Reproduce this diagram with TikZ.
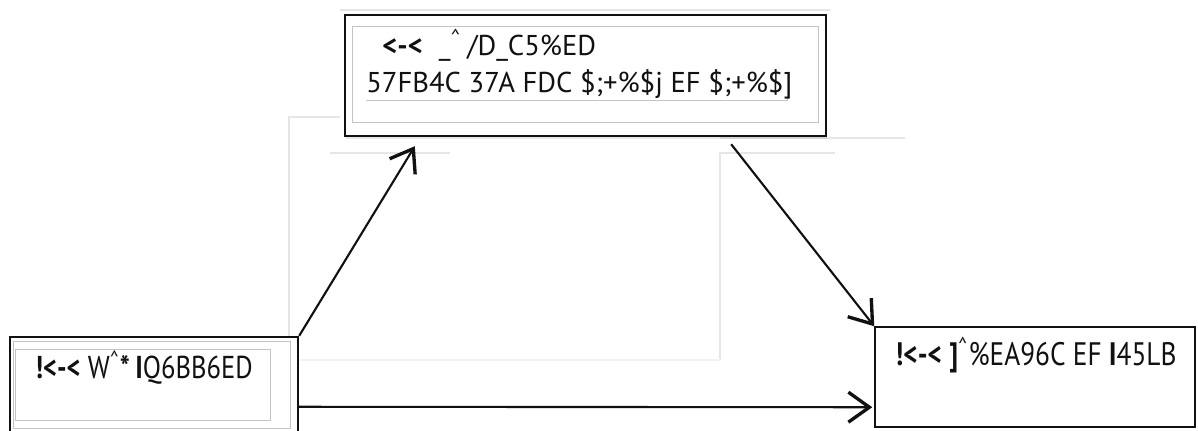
\documentclass[tikz,border=0pt]{standalone}
\usepackage{fontspec}
\setmainfont{PT Sans}
\newfontfamily\narrowsans{PT Sans}[FakeStretch=0.84]
\usetikzlibrary{arrows.meta,calc,shadows}
\definecolor{diagInk}{HTML}{111111}
\definecolor{diagFrame}{HTML}{C4C4C4}
\definecolor{diagGuide}{HTML}{E6E6E6}

\begin{document}
\begin{tikzpicture}[x=0.02cm,y=-0.02cm,text=diagInk,
  font=\fontsize{16.3}{20}\selectfont,
  modelbox/.style={rectangle,draw=diagInk,fill=white,inner sep=0pt,line width=1.4pt},
  innerframe/.style={draw=diagFrame,line width=0.5pt},
  guide/.style={draw=diagGuide,line width=0.6pt},
  boxtext/.style={anchor=base west,inner sep=0pt},
  link/.style={draw=diagInk,line width=1.2pt,
    -{Straight Barb[length=4.2mm,width=6mm,line width=1.9pt]}}]
  \fill[white] (0,0) rectangle (1198,430);
  \path[use as bounding box] (0,0) rectangle (1198,430);
  \clip (0,0) rectangle (1198,430);

  % Faint frame remnants sit behind everything else.
  \draw[guide] (340,10)--(830,10);
  \draw[guide] (289,345)--(289,117)--(340,117);
  \draw[guide] (330,153)--(450,153);
  \draw[guide] (720,360)--(720,153)--(835,153);
  \draw[guide] (720,138)--(905,138);
  \draw[guide,draw=diagGuide!50] (300,360)--(720,360);

  % The three boxes of the model.
  \node[modelbox,minimum width=9.62cm,minimum height=2.42cm,
    drop shadow={shadow xshift=0.8pt,shadow yshift=-1.6pt,opacity=0.18}] (med) at (585.5,75.5) {};
  \node[modelbox,minimum width=5.76cm,minimum height=2.2cm] (pred) at (154,392) {};
  \node[modelbox,line width=0.9pt,minimum width=6.4cm,minimum height=2cm] (out) at (1035,377) {};

  \draw[innerframe] (352,26) rectangle (818,122);
  \draw[innerframe] (366,100)--(787,100)--(787,72);
  \draw[innerframe] (13,341) rectangle (290,428);
  \draw[innerframe] (15,349) rectangle (270,420);

  \node[boxtext] (medtop) at (382,55)
    {\textbf{<-<}\hspace{0.32cm}\_\textsuperscript{\textasciicircum}\hspace{0.12cm}/D\_C5\%ED};
  \node[boxtext] (medbottom) at (366,92)
    {57FB4C 37A FDC \$;+\%\$j EF \$;+\%\$]};
  \node[boxtext,font=\narrowsans\fontsize{18}{21}\selectfont] (predtext) at (35,378)
    {\textbf{!<-<} W\textsuperscript{\textasciicircum}\textbf{*}\,\textbf{I}Q6BB6ED};
  \node[boxtext,font=\narrowsans\fontsize{18.5}{22}\selectfont] (outtext) at (895,365)
    {\textbf{!<-<} \textbf{]}\textsuperscript{\textasciicircum}\%EA96C EF \textbf{I}45LB};

  % Paths between the boxes.
  \draw[link] (pred.north east) -- ($(med.south west)+(71,9)$);
  \draw[link] ($(med.south east)+(-96,7)$) -- (out.north west);
  \draw[link] ($(pred.north east)+(0,71)$) -- ($(out.north west)+(-2,81)$);
\end{tikzpicture}
\end{document}
